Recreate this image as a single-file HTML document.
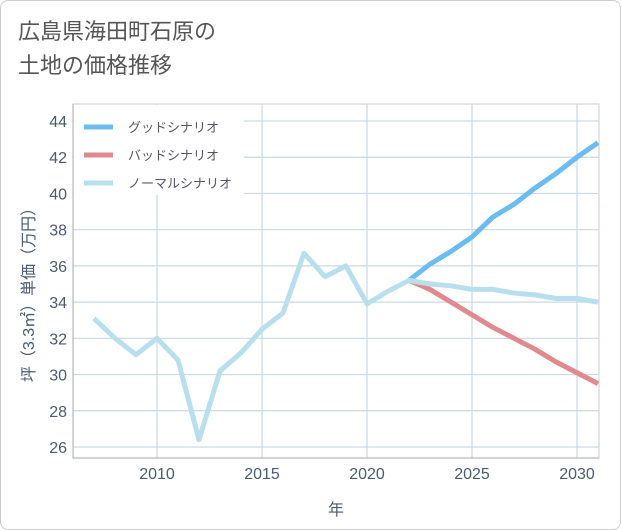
<!DOCTYPE html>
<html><head><meta charset="utf-8"><style>
body{margin:0;background:#fff;}
#wrap{position:relative;width:619px;height:528px;border:1px solid #ccc;border-radius:8px;background:#fff;overflow:hidden;font-family:"Liberation Sans","Noto Sans CJK JP",sans-serif;}
#title{position:absolute;left:17px;top:14px;font-size:22px;line-height:34px;color:#555;}
</style></head><body>
<div id="wrap">
<div id="title">広島県海田町石原の<br>土地の価格推移</div>
<svg id="chart" width="621" height="530" style="position:absolute;left:0;top:0"></svg>
</div>
<script>
const years=[2007,2008,2009,2010,2011,2012,2013,2014,2015,2016,2017,2018,2019,2020,2021,2022,2023,2024,2025,2026,2027,2028,2029,2030,2031];
const normalVals=[33.1,32.0,31.1,32.0,30.8,26.4,30.2,31.2,32.5,33.4,36.7,35.4,36.0,33.9,34.6,35.2,35.0,34.9,34.7,34.7,34.5,34.4,34.2,34.2,34.0];
const fYears=[2022,2023,2024,2025,2026,2027,2028,2029,2030,2031];
const goodVals=[35.2,36.1,36.8,37.6,38.7,39.4,40.3,41.1,42.0,42.8];
const badVals=[35.2,34.7,34.0,33.3,32.6,32.0,31.4,30.7,30.1,29.5];
const xTicks=[2010,2015,2020,2025,2030];
const yTicks=[26,28,30,32,34,36,38,40,42,44];
const legendLabels=["グッドシナリオ","バッドシナリオ","ノーマルシナリオ"];
const colors=["#6bbcf0","#e08a8f","#b8dfee"];
const L=72,R=598,T=103,B=457;
const x=y=>156+(y-2010)*21;
const yv=v=>446-(v-26)*(326/18);
const svg=document.getElementById('chart');
const NS='http://www.w3.org/2000/svg';
function mk(t,a){const e=document.createElementNS(NS,t);for(const k in a)e.setAttribute(k,a[k]);svg.appendChild(e);return e;}
const bg=mk('rect',{x:L,y:T,width:R-L,height:B-T,fill:'#fff',stroke:'#ccc'});


xTicks.forEach(yr=>{const l=mk('line',{x1:x(yr),x2:x(yr),y1:T,y2:B,stroke:'#c9d9e6','stroke-width':1.2});

});
yTicks.forEach(v=>{const l=mk('line',{x1:L,x2:R,y1:yv(v),y2:yv(v),stroke:'#c9d9e6','stroke-width':1.2});

});
mk('line',{x1:L,x2:L,y1:T,y2:B,stroke:'#aaa'});
mk('line',{x1:L,x2:R,y1:B,y2:B,stroke:'#aaa'});
xTicks.forEach(t=>{const e=mk('text',{x:x(t),y:478,'text-anchor':'middle','font-size':16,fill:'#4a5a70'});e.textContent=t;

});
yTicks.forEach(t=>{const e=mk('text',{x:66,y:yv(t)+6,'text-anchor':'end','font-size':16,fill:'#4a5a70'});e.textContent=t;

});
const xt=mk('text',{x:335,y:514,'text-anchor':'middle','font-size':16,fill:'#4a5a70'});xt.textContent='年';


const yt=mk('text',{x:0,y:0,'text-anchor':'middle','font-size':16,fill:'#4a5a70',transform:'translate(33,290) rotate(-90)'});yt.textContent='坪（3.3㎡）単価（万円）';


function line(xs,vs,c,name){const p=mk('polyline',{points:xs.map((yr,i)=>x(yr)+','+yv(vs[i])).join(' '),fill:'none',stroke:c,'stroke-width':5,'stroke-linejoin':'round'});

}
line(fYears,goodVals,colors[0],'good-scenario-line');
line(fYears,badVals,colors[1],'bad-scenario-line');
line(years,normalVals,colors[2],'normal-scenario-line');
const lg=mk('rect',{x:73,y:104,width:170,height:90,fill:'#fff'});


legendLabels.forEach((lb,i)=>{const yy=126+i*28;
const l=mk('line',{x1:83,x2:112,y1:yy,y2:yy,stroke:colors[i],'stroke-width':5});


const t=mk('text',{x:127,y:yy+5,'font-size':13,fill:'#556'});t.textContent=lb;

});
</script>
</body></html>
